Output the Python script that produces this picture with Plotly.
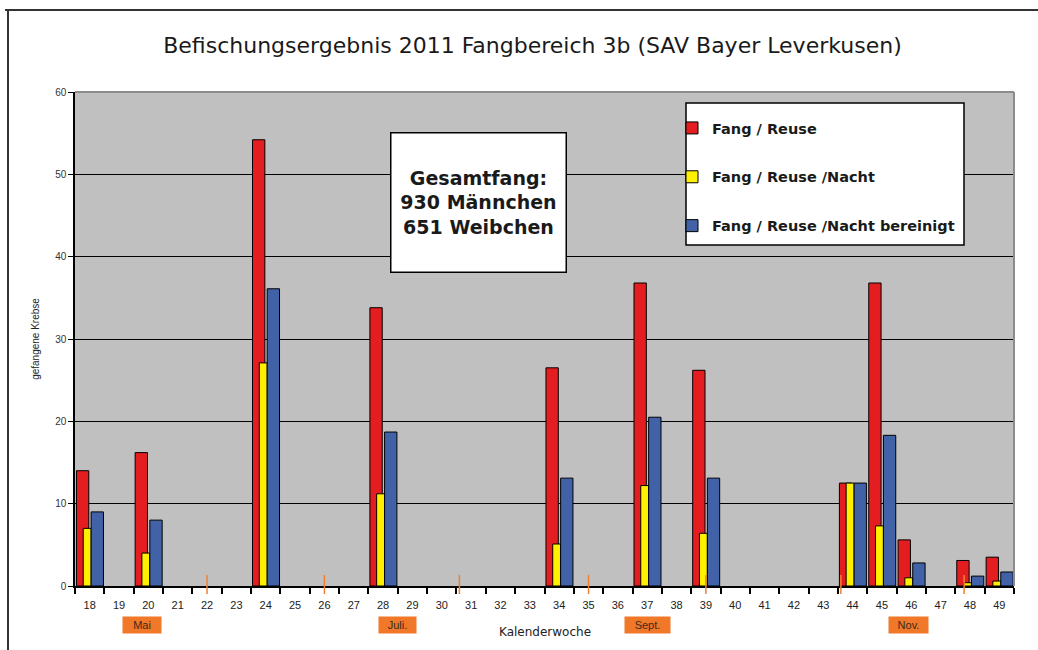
import plotly.graph_objects as go

# Kalenderwochen 18..49
weeks = list(range(18, 50))

# Fang pro Woche (None = kein Fang/keine Befischung)
fang_reuse = {18: 14, 20: 16.2, 24: 54.2, 28: 33.8, 34: 26.5, 37: 36.8,
              39: 26.2, 44: 12.5, 45: 36.8, 46: 5.6, 48: 3.1, 49: 3.5}
fang_nacht = {18: 7, 20: 4, 24: 27.1, 28: 11.2, 34: 5.1, 37: 12.2,
              39: 6.4, 44: 12.5, 45: 7.3, 46: 1.0, 48: 0.4, 49: 0.6}
fang_bereinigt = {18: 9, 20: 8, 24: 36.1, 28: 18.7, 34: 13.1, 37: 20.5,
                  39: 13.1, 44: 12.5, 45: 18.3, 46: 2.8, 48: 1.2, 49: 1.7}

# Monatsgrenzen (Kalenderwoche) und Monatsbeschriftungen
month_marks = [22, 26, 30.6, 35, 39, 43.6, 47.8]
month_labels = ["Mai", "Juli.", "Sept.", "Nov."]
month_label_weeks = [19.8, 28.5, 37.0, 45.9]

series_names = ["Fang / Reuse", "Fang / Reuse /Nacht", "Fang / Reuse /Nacht bereinigt"]
colors = ["#E41E20", "#FFF000", "#4262A8"]

# body margin is removed in the page (post_script), figure fills the window
W, H = 1038, 650
L, R, T, B = 75, 24, 92, 64
pw, ph = W - L - R, H - T - B


def px_x(p):
    return (p - L) / pw


def px_y(p):
    return (H - B - p) / ph


fig = go.Figure()
layout_bars = [(-0.45, 0.42), (-0.22, 0.27), (0.05, 0.42)]
for i, (name, data) in enumerate(zip(series_names, [fang_reuse, fang_nacht, fang_bereinigt])):
    off, wd = layout_bars[i]
    fig.add_trace(go.Bar(
        x=weeks,
        y=[data.get(w) for w in weeks],
        name="<b>" + name + "</b>",
        offset=off,
        width=wd,
        marker=dict(color=colors[i], line=dict(color="black", width=1)),
        legendgroup=str(i),
    ))

shapes = []
# Monatsgrenzen in orange
for m in month_marks:
    shapes.append(dict(type="line", xref="x", yref="paper", x0=m, x1=m,
                       y0=px_y(594), y1=px_y(575), line=dict(color="#F08030", width=1.5)))
# graue Rahmenlinien oben und rechts
shapes.append(dict(type="line", xref="paper", yref="paper", x0=0, x1=1, y0=1, y1=1,
                   line=dict(color="#8C8C8C", width=2), layer="above"))
shapes.append(dict(type="line", xref="paper", yref="paper", x0=1, x1=1, y0=0, y1=1,
                   line=dict(color="#8C8C8C", width=2), layer="above"))
# Legendenkasten
shapes.append(dict(type="rect", xref="paper", yref="paper", x0=px_x(686), x1=px_x(964),
                   y0=px_y(245), y1=px_y(103), fillcolor="white",
                   line=dict(color="black", width=1.5), layer="above"))
# äußerer Diagrammrahmen
shapes.append(dict(type="line", xref="paper", yref="paper", x0=px_x(5), x1=px_x(1038),
                   y0=px_y(10), y1=px_y(10), line=dict(color="#333333", width=2)))
shapes.append(dict(type="line", xref="paper", yref="paper", x0=px_x(8), x1=px_x(8),
                   y0=px_y(10), y1=px_y(650), line=dict(color="#333333", width=2)))

annotations = [
    dict(text="<b>Gesamtfang:<br>930 Männchen<br>651 Weibchen</b>",
         xref="paper", yref="paper", x=px_x(478.5), y=px_y(202.5),
         xanchor="center", yanchor="middle",
         showarrow=False, bgcolor="white", bordercolor="black", borderwidth=1.5,
         width=172, height=136, font=dict(size=19, color="#1a1a1a", family="DejaVu Sans")),
    dict(text="Kalenderwoche", xref="paper", yref="paper", x=px_x(545), y=px_y(632),
         xanchor="center", yanchor="middle",
         showarrow=False, font=dict(size=12, color="#222222", family="DejaVu Sans")),
]
month_widths = [36, 35, 43, 37]
for lbl, wk, bw in zip(month_labels, month_label_weeks, month_widths):
    annotations.append(dict(text=lbl, xref="x", yref="paper", x=wk, y=px_y(625),
                            xanchor="center", yanchor="middle",
                            showarrow=False, bgcolor="#F07828", width=bw, height=14,
                            borderpad=1, font=dict(size=11, color="#3a2a1a")))

fig.update_layout(
    width=W, height=H,
    margin=dict(l=L, r=R, t=T, b=B),
    paper_bgcolor="white",
    plot_bgcolor="#C0C0C0",
    barmode="overlay",
    font=dict(family="Liberation Sans", color="#222222"),
    title=dict(text="Befischungsergebnis 2011 Fangbereich 3b (SAV Bayer Leverkusen)",
               x=532.5 / W, xanchor="center", y=1 - 45 / H, yanchor="middle",
               font=dict(size=22, color="#1a1a1a", family="DejaVu Sans")),
    legend=dict(x=px_x(672), y=px_y(112), xanchor="left", yanchor="top",
                bgcolor="rgba(0,0,0,0)", borderwidth=0,
                font=dict(size=14.5, color="#1a1a1a", family="DejaVu Sans"),
                tracegroupgap=27, traceorder="grouped"),
    xaxis=dict(range=[17.5, 49.5], tickmode="array", tickvals=weeks,
               ticks="", showgrid=False, showline=True, linecolor="black", linewidth=1.5,
               tickfont=dict(size=11, color="#222222"), ticklabelstandoff=8,
               minor=dict(tick0=17.5, dtick=1, ticks="outside", ticklen=6,
                          tickcolor="black", tickwidth=1.5, showgrid=False)),
    yaxis=dict(range=[0, 60], dtick=10, showgrid=True, gridcolor="black", gridwidth=1,
               showline=True, linecolor="black", linewidth=1.5, zeroline=False,
               ticks="outside", ticklen=5, tickcolor="black",
               tickfont=dict(size=10, color="#333333"),
               title=dict(text="gefangene Krebse", font=dict(size=10, color="#222222"), standoff=14)),
    shapes=shapes,
    annotations=annotations,
)

fig.write_html("out.html", config={"displayModeBar": False},
               post_script="document.body.style.margin='0';document.body.style.overflow='hidden';")
